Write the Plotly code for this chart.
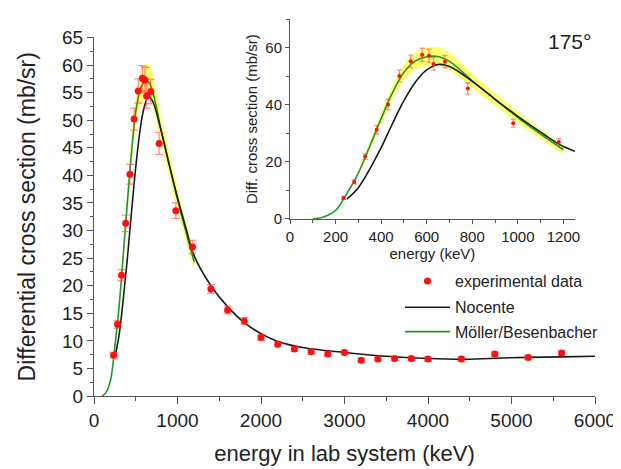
import plotly.graph_objects as go

# ---------------- data ----------------
exp_energy = [235, 282, 330, 380, 430, 480, 530, 580, 610, 630, 680, 780, 980, 1180,
              1400, 1600, 1800, 2000, 2200, 2400, 2600, 2800, 3000, 3200, 3400, 3600,
              3800, 4000, 4400, 4800, 5200, 5600]
exp_xsec = [7.4, 13.0, 21.9, 31.3, 40.2, 50.2, 55.3, 57.6, 57.3, 54.4, 55.2, 45.8, 33.6, 27.0,
            19.4, 15.6, 13.6, 10.6, 9.4, 8.5, 8.0, 7.6, 7.9, 6.5, 6.7, 6.8,
            6.8, 6.7, 6.7, 7.6, 7.0, 7.8]
exp_err = [0.5, 0.7, 1.0, 1.5, 1.8, 2.0, 2.2, 2.3, 2.3, 2.2, 2.2, 2.0, 1.4, 1.2,
           0.8, 0.7, 0.6, 0.5, 0.5, 0.4, 0.4, 0.4, 0.4, 0.4, 0.4, 0.4,
           0.4, 0.4, 0.4, 0.4, 0.4, 0.4]

noc_energy = [250, 300, 350, 400, 450, 500, 550, 600, 650, 700, 800, 900, 1000, 1100, 1200,
              1400, 1600, 1800, 2000, 2200, 2500, 3000, 3500, 4000, 4400, 4800, 5200, 5600, 6000]
noc_xsec = [7.0, 11.0, 17.5, 25.0, 33.5, 41.5, 48.0, 52.3, 54.2, 53.5, 48.3, 42.0, 36.0, 30.5, 25.4,
            20.0, 16.2, 13.3, 11.3, 9.9, 8.8, 7.9, 7.2, 6.8, 6.65, 6.85, 7.0, 7.1, 7.2]

mb_energy = [100, 150, 200, 250, 300, 350, 400, 450, 500, 550, 600, 650, 700, 800, 900, 1000, 1100, 1200]
mb_xsec = [0.0, 0.8, 3.0, 9.0, 16.1, 25.5, 35.2, 44.3, 51.5, 55.4, 56.9, 57.0, 55.3, 48.5, 42.0, 35.6, 29.8, 24.3]

band_energy = [300, 350, 400, 450, 500, 550, 600, 650, 700, 800, 900, 1000, 1100, 1200]
band_lo = [15.3, 24.2, 33.4, 42.0, 48.8, 52.4, 53.6, 53.8, 52.3, 45.9, 39.7, 33.6, 28.1, 22.8]
band_hi = [17.0, 26.8, 37.2, 46.8, 54.3, 58.4, 60.0, 60.2, 58.4, 51.0, 44.3, 37.6, 31.5, 25.8]

main_xticks = [0, 1000, 2000, 3000, 4000, 5000, 6000]
main_yticks = list(range(0, 70, 5))
inset_xticks = [0, 200, 400, 600, 800, 1000, 1200]
inset_yticks = [0, 20, 40, 60]

# ---------------- styles ----------------
FONT = "Liberation Sans, Arial, sans-serif"
RED = "#ff1010"
ERR = "rgba(255,70,70,0.6)"
GREEN = "#1f9a1f"
BLACK = "#1a1a1a"
YELLOW = "rgba(255,255,0,0.55)"
AXC = "#555555"

# page has an 8 px body margin: figure is 613x461 and page coords = figure coords + 8
OFF = 8
W, HH = 621 - OFF, 469 - OFF
L, R, T, B = 94 - OFF, 621 - 595, 0, 469 - 396
PW = W - L - R
H = HH - T - B


def px_x(page_x):
    return (page_x - OFF - L) / PW


def px_y(page_y):
    return (HH - B - (page_y - OFF)) / H


fig = go.Figure()


def add_set(xa, ya, msize, ewidth, show):
    fig.add_trace(go.Scatter(x=band_energy, y=band_lo, mode="lines", line=dict(width=0, shape="spline"),
                             hoverinfo="skip", showlegend=False, xaxis=xa, yaxis=ya))
    fig.add_trace(go.Scatter(x=band_energy, y=band_hi, mode="lines", line=dict(width=0, shape="spline"),
                             fill="tonexty", fillcolor=YELLOW, hoverinfo="skip", showlegend=False,
                             xaxis=xa, yaxis=ya))
    fig.add_trace(go.Scatter(x=mb_energy, y=mb_xsec, mode="lines", name="Möller/Besenbacher",
                             line=dict(color=GREEN, width=1.6, shape="spline"),
                             showlegend=show, legend="legend3", xaxis=xa, yaxis=ya))
    fig.add_trace(go.Scatter(x=noc_energy, y=noc_xsec, mode="lines", name="Nocente",
                             line=dict(color=BLACK, width=1.6, shape="spline"),
                             showlegend=show, legend="legend2", xaxis=xa, yaxis=ya))
    fig.add_trace(go.Scatter(x=exp_energy, y=exp_xsec, mode="markers", name="experimental data",
                             marker=dict(color=RED, size=msize),
                             error_y=dict(type="data", array=exp_err, color=ERR, thickness=1.3, width=ewidth),
                             showlegend=show, legend="legend", xaxis=xa, yaxis=ya))


add_set("x", "y", 7, 4, True)
add_set("x2", "y2", 4, 2.5, False)

axis_common = dict(showline=True, linecolor=AXC, linewidth=1, ticks="outside", tickcolor=AXC,
                   showgrid=False, zeroline=False, mirror=False)

legend_common = dict(bgcolor="rgba(0,0,0,0)", borderwidth=0, xanchor="left", yanchor="middle",
                     font=dict(family=FONT, size=16, color="#222"), itemwidth=45)

fig.update_layout(
    width=W, height=HH,
    margin=dict(l=L, r=R, t=T, b=B),
    plot_bgcolor="white", paper_bgcolor="white",
    font=dict(family=FONT, color="#222"),
    xaxis=dict(domain=[0, 1], range=[0, 6000], tickvals=main_xticks,
               ticklen=7, minor=dict(dtick=500, ticklen=4, ticks="outside", tickcolor=AXC),
               tickfont=dict(size=19, family=FONT, color="#222"),
               title=dict(text="energy in lab system (keV)", font=dict(size=22, family=FONT, color="#222"),
                          standoff=15),
               anchor="y", **axis_common),
    yaxis=dict(domain=[0, px_y(28)], range=[0, 65], tickvals=main_yticks,
               ticklen=6, minor=dict(dtick=2.5, ticklen=3, ticks="outside", tickcolor=AXC),
               tickfont=dict(size=19, family=FONT, color="#222"),
               title=dict(text="Differential cross section (mb/sr)", font=dict(size=23, family=FONT, color="#222"),
                          standoff=20),
               anchor="x", **axis_common),
    xaxis2=dict(domain=[px_x(290), px_x(574.8)], range=[0, 1250], tickvals=inset_xticks,
                ticklen=4, minor=dict(dtick=100, ticklen=3, ticks="outside", tickcolor=AXC),
                tickfont=dict(size=15, family=FONT, color="#222"),
                title=dict(text="energy (keV)", font=dict(size=15, family=FONT, color="#222"), standoff=1),
                anchor="y2", **axis_common),
    yaxis2=dict(domain=[px_y(214.3), min(1.0, px_y(9.5))], range=[0, 70], tickvals=inset_yticks,
                ticklen=4, minor=dict(dtick=10, ticklen=3, ticks="outside", tickcolor=AXC),
                tickfont=dict(size=15, family=FONT, color="#222"),
                title=dict(text="Diff. cross section (mb/sr)", font=dict(size=15, family=FONT, color="#222"),
                           standoff=4),
                anchor="x2", **axis_common),
    legend=dict(x=px_x(400), y=px_y(278), **legend_common),
    legend2=dict(x=px_x(400), y=px_y(305), **legend_common),
    legend3=dict(x=px_x(400), y=px_y(330), **legend_common),
    annotations=[dict(text="175°", x=px_x(593), y=px_y(18), xref="paper", yref="paper",
                      showarrow=False, font=dict(size=21, family=FONT, color="#222"))],
)

fig.write_html("out.html")
